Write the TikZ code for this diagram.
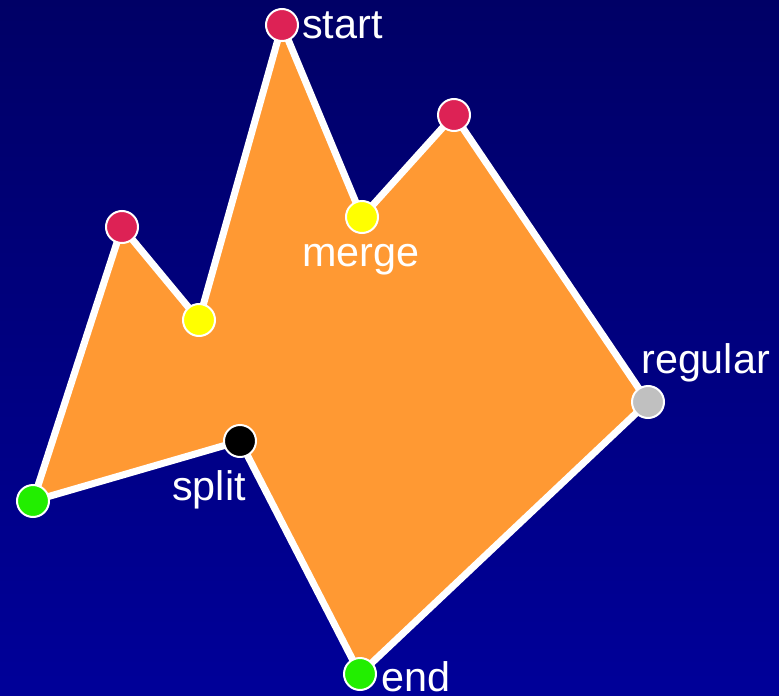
\documentclass[tikz,border=0pt]{standalone}
\usepackage{fontspec}
\setmainfont{Liberation Sans}
\definecolor{bgtop}{HTML}{000066}
\definecolor{bgbot}{HTML}{000099}
\definecolor{polyfill}{HTML}{FF9933}
\definecolor{vred}{HTML}{DD2255}
\definecolor{vyellow}{HTML}{FFFF00}
\definecolor{vgreen}{HTML}{22EE00}
\definecolor{vgray}{HTML}{C0C0C0}
\tikzset{
  vert/.style={circle, draw=white, line width=1.5pt, minimum size=24pt, inner sep=0pt},
  lbl/.style={text=white, font=\fontsize{31}{31}\selectfont, anchor=base west, inner sep=0pt},
  edge/.style={draw=white, fill=polyfill, line width=5.25pt, line join=round}
}
\begin{document}
\begin{tikzpicture}[x=0.75pt, y=-0.75pt]
\shade[top color=bgtop, bottom color=bgbot] (0,0) rectangle (779,696);
\useasboundingbox (0,0) rectangle (779,696);
\coordinate (p1) at (282,25);
\coordinate (p2) at (362,217);
\coordinate (p3) at (454,115);
\coordinate (p4) at (648,402);
\coordinate (p5) at (360,674);
\coordinate (p6) at (240,441);
\coordinate (p7) at (33,501);
\coordinate (p8) at (122,227);
\coordinate (p9) at (199,320);
\path[edge] (p1) -- (p2) -- (p3) -- (p4) -- (p5) -- (p6) -- (p7) -- (p8) -- (p9) -- cycle;
\node[vert, fill=vred] (v1) at (p1) {};
\node[vert, fill=vyellow] (v2) at (p2) {};
\node[vert, fill=vred] (v3) at (p3) {};
\node[vert, fill=vgray] (v4) at (p4) {};
\node[vert, fill=vgreen] (v5) at (p5) {};
\node[vert, fill=black] (v6) at (p6) {};
\node[vert, fill=vgreen] (v7) at (p7) {};
\node[vert, fill=vred] (v8) at (p8) {};
\node[vert, fill=vyellow] (v9) at (p9) {};
\node[lbl] (lstart) at (302,38) {start};
\node[lbl] (lmerge) at (302,266) {merge};
\node[lbl] (lregular) at (641,373) {regular};
\node[lbl] (lsplit) at (172,500) {split};
\node[lbl] (lend) at (381,691) {end};
\end{tikzpicture}
\end{document}
